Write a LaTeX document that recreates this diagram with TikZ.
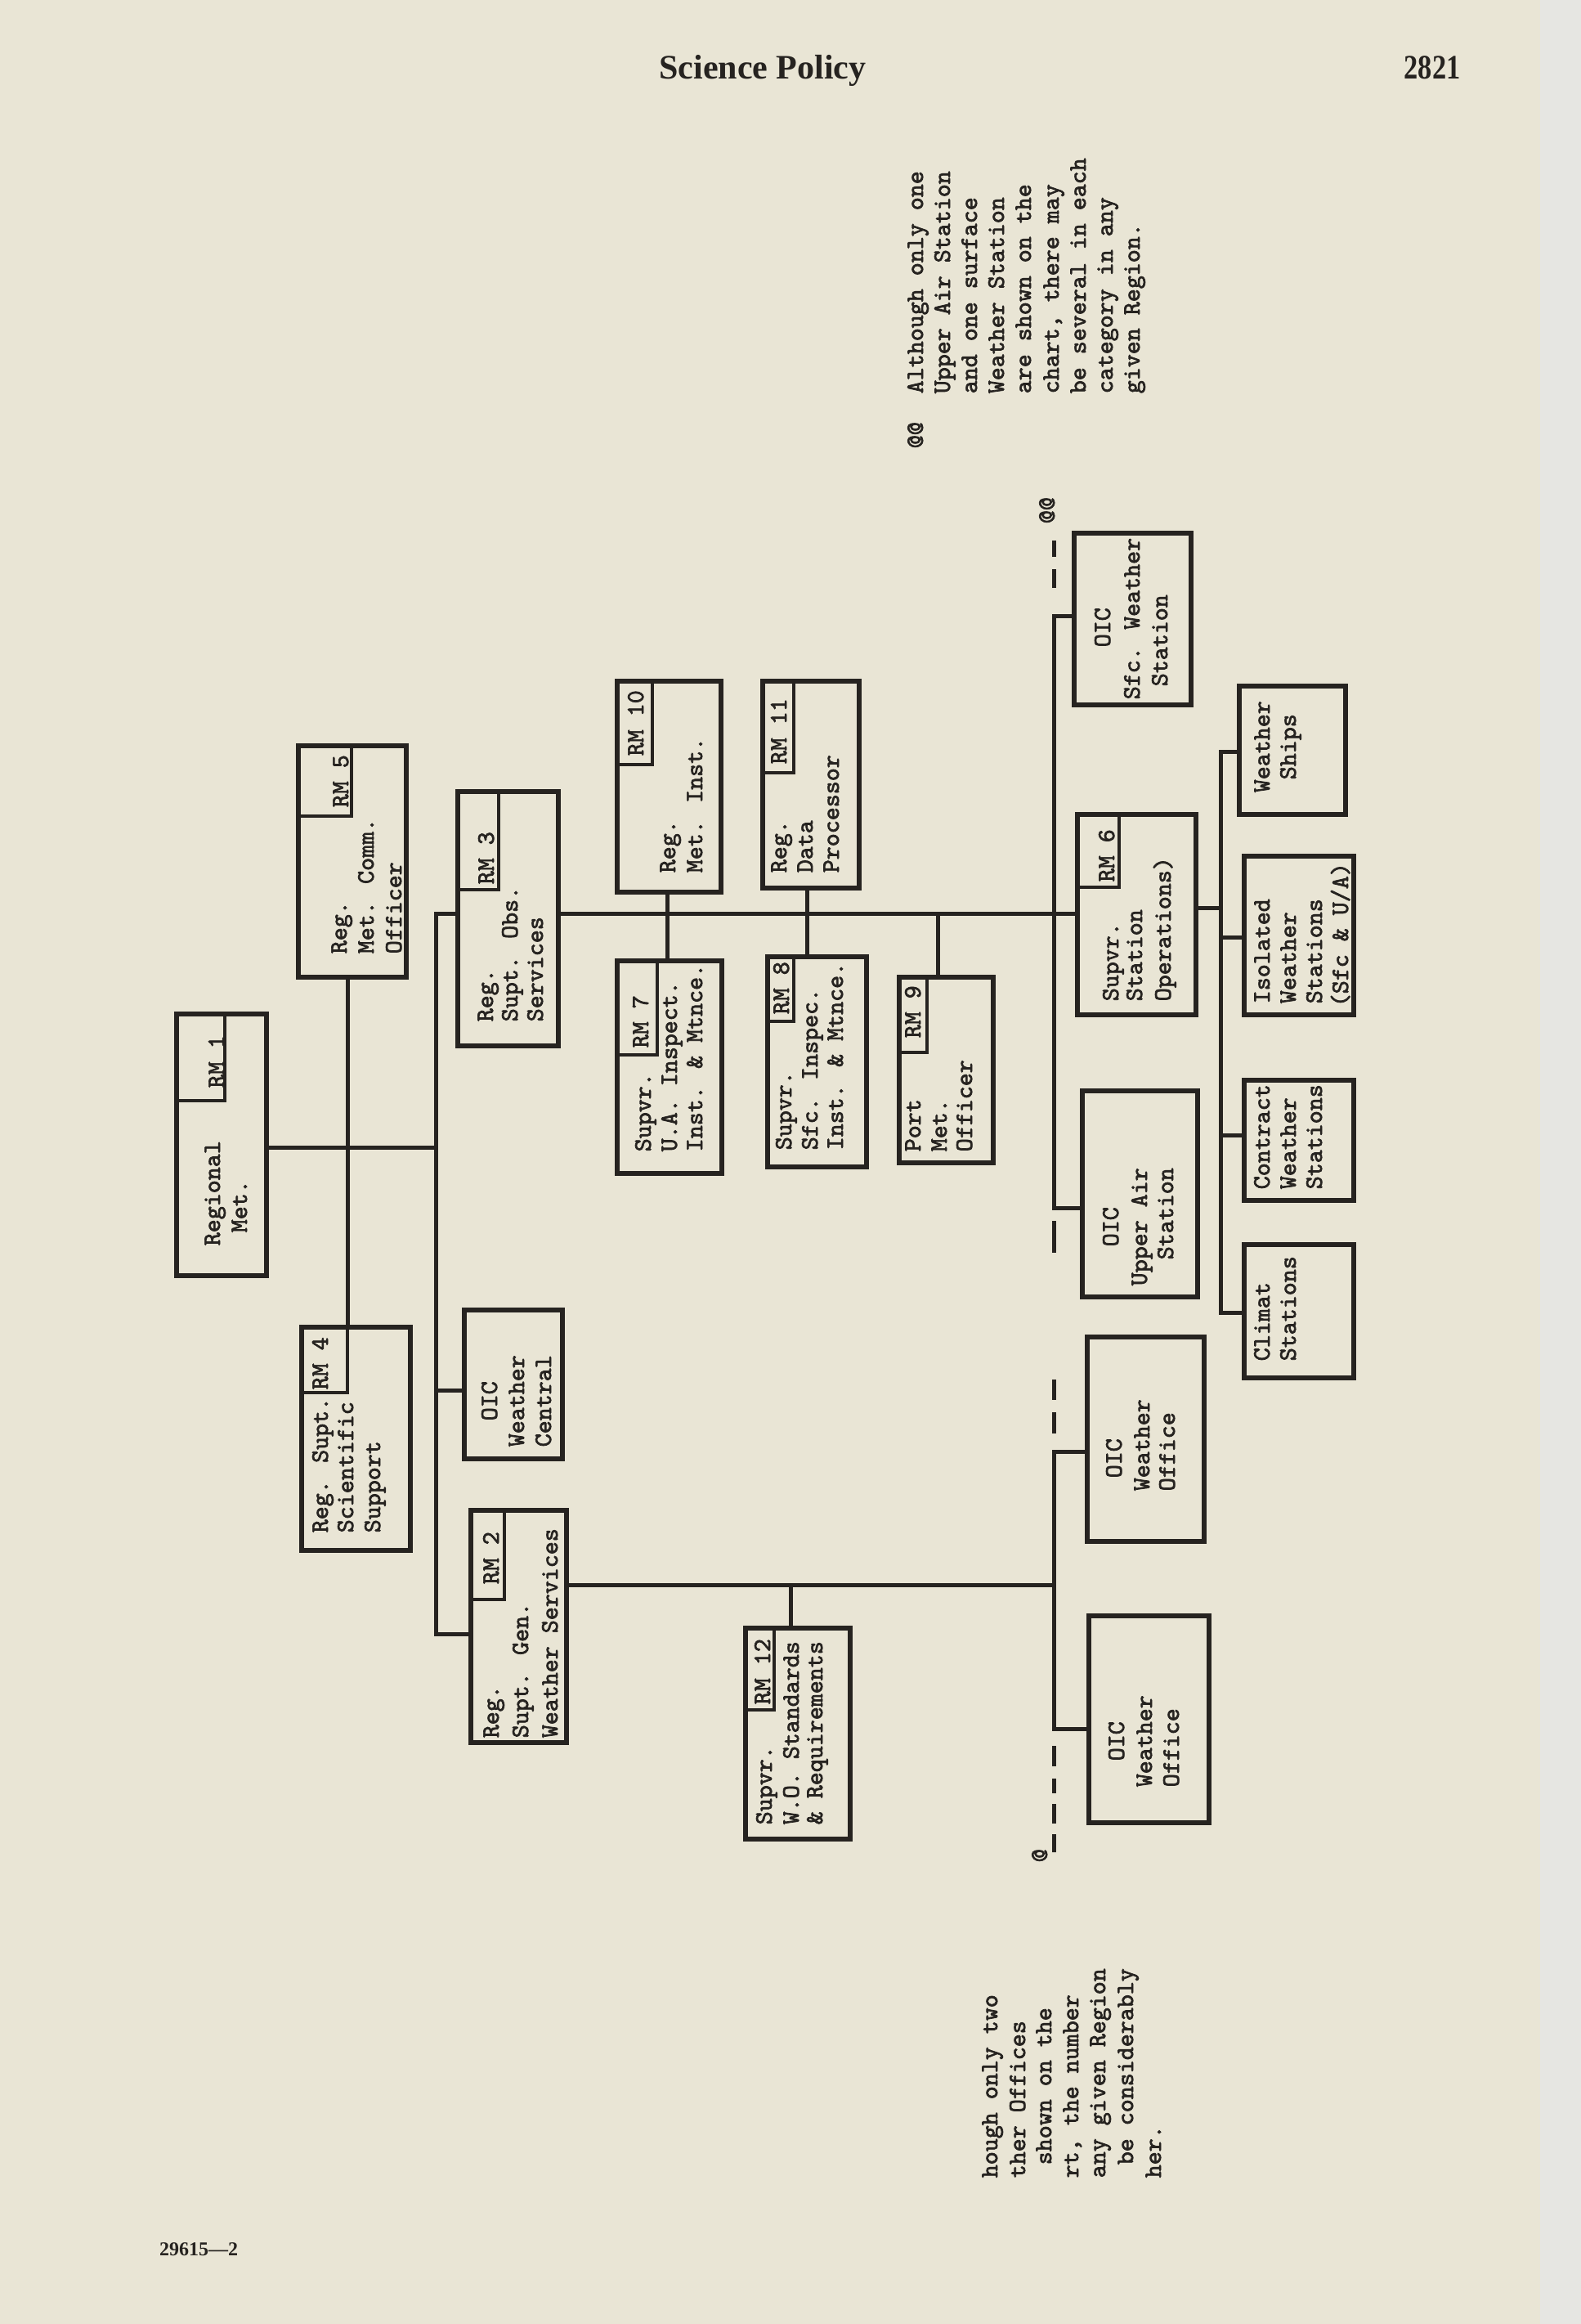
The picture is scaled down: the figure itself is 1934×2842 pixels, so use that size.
\documentclass[tikz,border=0pt]{standalone}
\usepackage{fontspec}
\setmainfont{Liberation Serif}
\newfontfamily\typew{lmmono10-regular.otf}[FakeBold=2.4]
\usetikzlibrary{fit}
\definecolor{paper}{RGB}{233,229,213}
\definecolor{edgepaper}{RGB}{230,230,226}
\definecolor{ink}{RGB}{38,35,32}
\newcounter{tlc}
\newcommand\tl[3]{\stepcounter{tlc}\node[tline] (tl\arabic{tlc}) at ({#1+9},{#2}) {#3};}
\newcommand\bx[6][]{\node[box,#1,fit={(#3,#4) (#5,#6)}] (#2) {};}
\tikzset{
  box/.style={draw=ink, line width=1.35pt, inner sep=0pt},
  tab/.style={line width=0.95pt},
  conn/.style={draw=ink, line width=1.25pt},
  tline/.style={rotate=90, anchor=base west, inner sep=0pt, text=ink,
    font=\typew\fontsize{7.62pt}{8pt}\selectfont},
}
\begin{document}
\begin{tikzpicture}[x=0.25pt,y=-0.25pt]
\useasboundingbox (0,0) rectangle (1934,2842);
\fill[paper] (0,0) rectangle (1934,2842);
\fill[edgepaper] (1884,0) rectangle (1934,2842);

% header / footer
\node[font=\bfseries\fontsize{10.5pt}{12pt}\selectfont, anchor=base, text=ink] (title) at (933,96) {Science Policy};
\node[font=\bfseries\fontsize{10.5pt}{12pt}\selectfont, anchor=base, text=ink] (pageno) at (1752,96) {\scalebox{0.82}[1]{2821}};
\node[font=\bfseries\fontsize{6pt}{7pt}\selectfont, anchor=base west, text=ink] (foot) at (181,2758) {29615---2};

% boxes
\bx{rm5}{365}{912}{497}{1195}
\bx[tab]{rm5t}{365}{912}{430}{998}
\bx{rm1}{216}{1240}{326}{1560}
\bx[tab]{rm1t}{216}{1240}{275}{1346}
\bx{rm4}{369}{1623}{502}{1896}
\bx[tab]{rm4t}{369}{1623}{425}{1703}
\bx{rm3}{560}{968}{683}{1279}
\bx[tab]{rm3t}{560}{968}{610}{1088}
\bx{wc}{568}{1602}{688}{1784}
\bx{rm2}{576}{1847}{693}{2131}
\bx[tab]{rm2t}{576}{1847}{617}{1956}
\bx{rm10}{755}{833}{882}{1091}
\bx[tab]{rm10t}{755}{833}{798}{935}
\bx{rm7}{755}{1175}{883}{1435}
\bx[tab]{rm7t}{755}{1175}{804}{1290}
\bx{rm11}{933}{833}{1051}{1086}
\bx[tab]{rm11t}{933}{833}{971}{945}
\bx{rm8}{939}{1170}{1060}{1427}
\bx[tab]{rm8t}{939}{1170}{971}{1249}
\bx{rm9}{1100}{1195}{1215}{1422}
\bx[tab]{rm9t}{1100}{1195}{1134}{1287}
\bx{rm12}{912}{1991}{1040}{2249}
\bx[tab]{rm12t}{912}{1991}{947}{2091}
\bx{sfc}{1314}{652}{1457}{862}
\bx{rm6}{1318}{996}{1463}{1241}
\bx[tab]{rm6t}{1318}{996}{1369}{1085}
\bx{ua}{1324}{1334}{1465}{1586}
\bx{wo1}{1330}{1635}{1473}{1885}
\bx{wo2}{1332}{1976}{1479}{2229}
\bx{ships}{1516}{839}{1646}{996}
\bx{iso}{1522}{1047}{1656}{1241}
\bx{con}{1522}{1321}{1656}{1468}
\bx{cli}{1522}{1522}{1656}{1685}

% tab labels
\tl{417}{988}{RM 5}
\tl{265}{1331}{RM 1}
\tl{392}{1700}{RM 4}
\tl{595}{1082}{RM 3}
\tl{601}{1938}{RM 2}
\tl{778}{925}{RM 10}
\tl{784}{1282}{RM 7}
\tl{953}{935}{RM 11}
\tl{956}{1241}{RM 8}
\tl{1117}{1270}{RM 9}
\tl{933}{2085}{RM 12}
\tl{1354}{1079}{RM 6}

% box texts
\tl{415}{1167}{Reg.}
\tl{448}{1167}{Met. Comm.}
\tl{482}{1167}{Officer}
\tl{260}{1524}{Regional}
\tl{293}{1508}{Met.}
\tl{392}{1875}{Reg. Supt.}
\tl{423}{1875}{Scientific}
\tl{456}{1875}{Support}
\tl{594}{1250}{Reg.}
\tl{624}{1250}{Supt. Obs.}
\tl{655}{1250}{Services}
\tl{599}{1738}{OIC}
\tl{632}{1770}{Weather}
\tl{665}{1770}{Central}
\tl{601}{2126}{Reg.}
\tl{637}{2126}{Supt. Gen.}
\tl{673}{2126}{Weather Services}
\tl{817}{1068}{Reg.}
\tl{850}{1068}{Met. Inst.}
\tl{787}{1409}{Supvr.}
\tl{819}{1409}{U.A. Inspect.}
\tl{850}{1409}{Inst. \& Mtnce.}
\tl{953}{1068}{Reg.}
\tl{985}{1068}{Data}
\tl{1017}{1068}{Processor}
\tl{959}{1407}{Supvr.}
\tl{991}{1407}{Sfc. Inspec.}
\tl{1022}{1407}{Inst. \& Mtnce.}
\tl{1117}{1409}{Port}
\tl{1149}{1409}{Met.}
\tl{1180}{1409}{Officer}
\tl{935}{2232}{Supvr.}
\tl{968}{2232}{W.O. Standards}
\tl{997}{2232}{\& Requirements}
\tl{1349}{792}{OIC}
\tl{1385}{856}{Sfc. Weather}
\tl{1419}{840}{Station}
\tl{1359}{1225}{Supvr.}
\tl{1388}{1225}{Station}
\tl{1423}{1225}{Operations)}
\tl{1359}{1525}{OIC}
\tl{1394}{1573}{Upper Air}
\tl{1426}{1541}{Station}
\tl{1363}{1808}{OIC}
\tl{1397}{1824}{Weather}
\tl{1428}{1824}{Office}
\tl{1366}{2154}{OIC}
\tl{1400}{2186}{Weather}
\tl{1433}{2186}{Office}
\tl{1544}{970}{Weather}
\tl{1576}{954}{Ships}
\tl{1544}{1228}{Isolated}
\tl{1576}{1228}{Weather}
\tl{1608}{1228}{Stations}
\tl{1640}{1232}{(Sfc \& U/A)}
\tl{1544}{1455}{Contract}
\tl{1576}{1455}{Weather}
\tl{1608}{1455}{Stations}
\tl{1544}{1665}{Climat}
\tl{1576}{1665}{Stations}

% notes
\tl{1120}{549}{@@}
\tl{1120}{482}{Although only one}
\tl{1153}{482}{Upper Air Station}
\tl{1186}{482}{and one surface}
\tl{1219}{482}{Weather Station}
\tl{1252}{482}{are shown on the}
\tl{1286}{482}{chart, there may}
\tl{1319}{482}{be several in each}
\tl{1352}{482}{category in any}
\tl{1385}{482}{given Region.}
\tl{1211}{2664}{hough only two}
\tl{1245}{2664}{ther Offices}
\tl{1277}{2648}{shown on the}
\tl{1310}{2664}{rt, the number}
\tl{1343}{2664}{any given Region}
\tl{1377}{2648}{be considerably}
\tl{1411}{2664}{her.}
\tl{1281}{641}{@@}
\tl{1272}{2278}{@}

% connector points
\coordinate (T1) at (425,1403);
\coordinate (T2a) at (533,1117);
\coordinate (T2b) at (533,1998);
\coordinate (T2c) at (533,1700);
\coordinate (C10) at (816,1117);
\coordinate (C11) at (987,1117);
\coordinate (C9) at (1147,1117);
\coordinate (TD) at (1289,661);
\coordinate (TT) at (1289,753);
\coordinate (TU) at (1289,1477);
\coordinate (TW1) at (1289,1775);
\coordinate (TW2) at (1289,2114);
\coordinate (TB) at (1289,2265);
\coordinate (HL) at (1289,1938);
\coordinate (C12) at (967,1938);
\coordinate (B6) at (1493,1110);
\coordinate (BT) at (1493,919);
\coordinate (Bi) at (1493,1146);
\coordinate (Bc) at (1493,1388);
\coordinate (BB) at (1493,1605);

% connectors
\draw[conn] (rm5.south -| T1) -- (rm4.north -| T1);
\draw[conn] (rm1.east |- T1) -- (T1) -- (T1 -| T2a);
\draw[conn] (rm3.west |- T2a) -- (T2a) -- (T2b) -- (rm2.west |- T2b);
\draw[conn] (T2c) -- (wc.west |- T2c);
\draw[conn] (rm3.east |- T2a) -- (rm6.west |- T2a);
\draw[conn] (rm10.south -| C10) -- (rm7.north -| C10);
\draw[conn] (rm11.south -| C11) -- (rm8.north -| C11);
\draw[conn] (C9) -- (rm9.north -| C9);
\draw[conn] (sfc.west |- TT) -- (TT) -- (TU) -- (ua.west |- TU);
\draw[conn] (wo1.west |- TW1) -- (TW1) -- (TW2) -- (wo2.west |- TW2);
\draw[conn] (rm2.east |- HL) -- (HL);
\draw[conn] (C12) -- (rm12.north -| C12);
\draw[conn] (rm6.east |- B6) -- (B6);
\draw[conn] (ships.west |- BT) -- (BT) -- (BB) -- (cli.west |- BB);
\draw[conn] (Bi) -- (iso.west |- Bi);
\draw[conn] (Bc) -- (con.west |- Bc);
% dashed parts of the station line
\draw[conn, dash pattern=on 0pt off 8.5pt on 5.75pt off 3.75pt on 5pt] (TT) -- (TD);
\draw[conn, dash pattern=on 0pt off 4pt on 9.75pt off 38.75pt on 6.25pt off 3.75pt on 6.5pt off 5.5pt] (TU) -- (TW1);
\draw[conn, dash pattern=on 0pt off 5.25pt on 6.25pt off 3.75pt on 4.5pt off 3.25pt on 6pt off 3.25pt on 5.5pt] (TW2) -- (TB);
\end{tikzpicture}
\end{document}
